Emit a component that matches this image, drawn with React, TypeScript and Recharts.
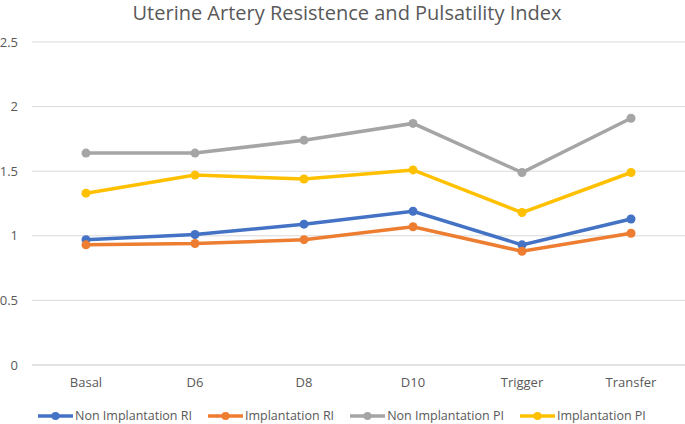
import React from "react";
import { CartesianGrid, Line, LineChart, XAxis, YAxis } from "recharts";

const stages = ["Basal", "D6", "D8", "D10", "Trigger", "Transfer"];
const nonImplantationRI = [0.97, 1.01, 1.09, 1.19, 0.93, 1.13];
const implantationRI = [0.93, 0.94, 0.97, 1.07, 0.88, 1.02];
const nonImplantationPI = [1.64, 1.64, 1.74, 1.87, 1.49, 1.91];
const implantationPI = [1.33, 1.47, 1.44, 1.51, 1.18, 1.49];
const yTicks = [0, 0.5, 1, 1.5, 2, 2.5];

const series = [
  { key: "nonImplRI", name: "Non Implantation RI", color: "#4472C4" },
  { key: "implRI", name: "Implantation RI", color: "#ED7D31" },
  { key: "nonImplPI", name: "Non Implantation PI", color: "#A5A5A5" },
  { key: "implPI", name: "Implantation PI", color: "#FFC000" },
];

const data = stages.map((stage, i) => ({
  stage,
  nonImplRI: nonImplantationRI[i],
  implRI: implantationRI[i],
  nonImplPI: nonImplantationPI[i],
  implPI: implantationPI[i],
}));

const font = "'Open Sans', sans-serif";
const textColor = "#595959";

const LegendIcon = ({ color }: { color: string }) => (
  <svg width={35} height={10} style={{ display: "block" }}>
    <line x1={0} y1={5} x2={35} y2={5} stroke={color} strokeWidth={3.5} />
    <circle cx={17.5} cy={5} r={4} fill={color} />
  </svg>
);

const App = () => {
  return (
    <div
      style={{
        position: "absolute",
        left: 0,
        top: 0,
        width: 685,
        height: 424,
        background: "#fff",
        fontFamily: font,
      }}
    >
      <div
        style={{
          position: "absolute",
          left: 0,
          top: 0,
          width: 685,
          paddingLeft: 9,
          boxSizing: "border-box",
          textAlign: "center",
          fontSize: 20,
          color: textColor,
          lineHeight: "26px",
          whiteSpace: "nowrap",
        }}
      >
        Uterine Artery Resistence and Pulsatility Index
      </div>
      <LineChart
        width={685}
        height={424}
        data={data}
        margin={{ top: 42, right: 0, left: 0, bottom: 0 }}
      >
        <CartesianGrid vertical={false} stroke="#D9D9D9" strokeWidth={1} />
        <XAxis
          dataKey="stage"
          axisLine={{ stroke: "#D9D9D9" }}
          tickLine={false}
          tickMargin={7}
          height={59}
          padding={{ left: 54, right: 54 }}
          tick={{ fill: textColor, fontSize: 13, fontFamily: font }}
        />
        <YAxis
          width={32}
          domain={[0, 2.5]}
          ticks={yTicks}
          axisLine={false}
          tickLine={false}
          tickMargin={8}
          tick={{ fill: textColor, fontSize: 13, fontFamily: font }}
        />
        {series.map((s) => (
          <Line
            key={s.key}
            type="linear"
            dataKey={s.key}
            name={s.name}
            stroke={s.color}
            strokeWidth={3.5}
            dot={{ r: 4.5, fill: s.color, stroke: s.color, strokeWidth: 0 }}
            isAnimationActive={false}
          />
        ))}
      </LineChart>
      <div
        style={{
          position: "absolute",
          left: 38,
          top: 406,
          display: "flex",
          alignItems: "center",
          fontSize: 12.5,
          lineHeight: "20px",
          color: textColor,
          whiteSpace: "nowrap",
        }}
      >
        {series.map((s) => (
          <div
            key={s.key}
            style={{ display: "flex", alignItems: "center", marginRight: 16 }}
          >
            <LegendIcon color={s.color} />
            <span style={{ marginLeft: 2 }}>{s.name}</span>
          </div>
        ))}
      </div>
    </div>
  );
};

export default App;
